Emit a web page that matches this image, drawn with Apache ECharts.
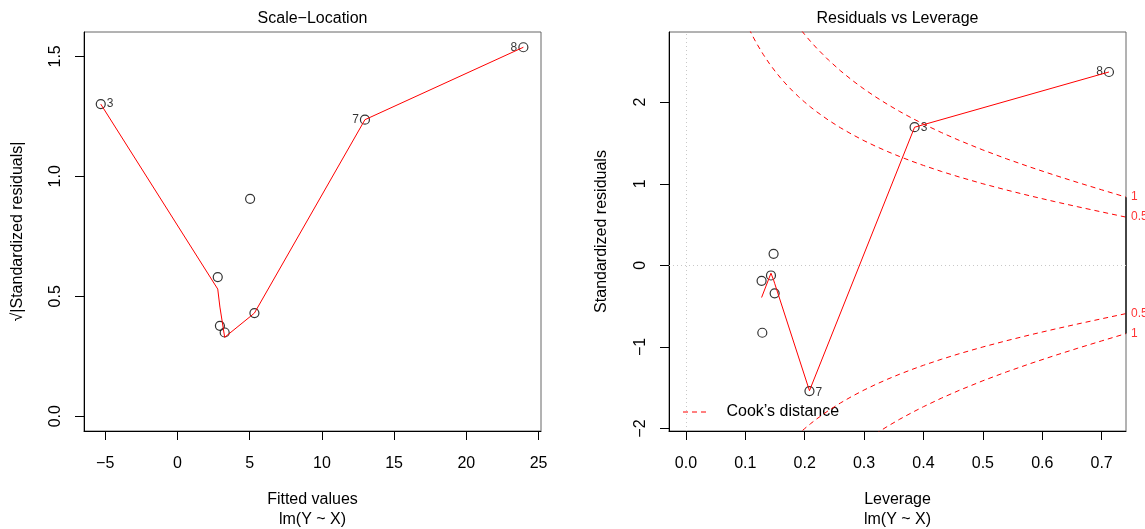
<!DOCTYPE html>
<html>
<head>
<meta charset="utf-8">
<script src="https://cdn.jsdelivr.net/npm/echarts@6/dist/echarts.min.js"></script>
<style>
html,body{margin:0;padding:0;background:#fff;}
#chart{width:1145px;height:529px;}
</style>
</head>
<body>
<div id="chart"></div>
<script>
// ---------- data ----------
const obsIds      = [3, 7, 8, 1, 2, 4, 5, 6];
const fittedVals  = [-5.31, 12.98, 23.95, 5.03, 2.79, 5.33, 2.94, 3.27];
const sqrtStdRes  = [1.301, 1.236, 1.538, 0.906, 0.580, 0.430, 0.377, 0.349];
const leverage    = [0.385, 0.208, 0.7123, 0.1286, 0.1494, 0.1274, 0.1476, 0.1432];
const stdRes      = [1.693, -1.541, 2.370, -0.826, -0.343, -0.190, 0.141, -0.124];
const labelledIds = [3, 7, 8];

// smoother (red) lines
const slSmoothX = [-5.31, 2.79, 2.94, 3.27, 5.03, 5.33, 12.98, 23.95];
const slSmoothY = [1.301, 0.530, 0.455, 0.329, 0.415, 0.430, 1.236, 1.538];
const rlSmoothX = [0.1274, 0.1286, 0.1432, 0.1476, 0.1494, 0.208, 0.385, 0.7123];
const rlSmoothY = [-0.394, -0.371, -0.096, -0.180, -0.220, -1.536, 1.693, 2.370];

// Cook's distance contours
const cookH      = [0.10, 0.105, 0.11, 0.115, 0.12, 0.13, 0.14, 0.15, 0.16, 0.17, 0.18, 0.19, 0.20, 0.21, 0.22, 0.24, 0.26, 0.28, 0.30, 0.32, 0.34, 0.36, 0.38, 0.40, 0.43, 0.46, 0.50, 0.54, 0.58, 0.62, 0.66, 0.70, 0.741];
const cookUp05   = [3.0000, 2.9196, 2.8445, 2.7741, 2.7080, 2.5870, 2.4785, 2.3805, 2.2913, 2.2096, 2.1344, 2.0648, 2.0000, 1.9396, 1.8830, 1.7795, 1.6871, 1.6036, 1.5275, 1.4577, 1.3933, 1.3333, 1.2773, 1.2247, 1.1513, 1.0835, 1.0000, 0.9230, 0.8510, 0.7829, 0.7177, 0.6547, 0.5912];
const cookUp1    = [4.2426, 4.1290, 4.0227, 3.9232, 3.8297, 3.6586, 3.5051, 3.3665, 3.2404, 3.1248, 3.0185, 2.9201, 2.8284, 2.7430, 2.6630, 2.5166, 2.3859, 2.2678, 2.1602, 2.0615, 1.9704, 1.8856, 1.8064, 1.7320, 1.6282, 1.5323, 1.4142, 1.3053, 1.2035, 1.1072, 1.0150, 0.9259, 0.8361];
const cookLo05   = [-3.0000, -2.9196, -2.8445, -2.7741, -2.7080, -2.5870, -2.4785, -2.3805, -2.2913, -2.2096, -2.1344, -2.0648, -2.0000, -1.9396, -1.8830, -1.7795, -1.6871, -1.6036, -1.5275, -1.4577, -1.3933, -1.3333, -1.2773, -1.2247, -1.1513, -1.0835, -1.0000, -0.9230, -0.8510, -0.7829, -0.7177, -0.6547, -0.5912];
const cookLo1    = [-4.2426, -4.1290, -4.0227, -3.9232, -3.8297, -3.6586, -3.5051, -3.3665, -3.2404, -3.1248, -3.0185, -2.9201, -2.8284, -2.7430, -2.6630, -2.5166, -2.3859, -2.2678, -2.1602, -2.0615, -1.9704, -1.8856, -1.8064, -1.7320, -1.6282, -1.5323, -1.4142, -1.3053, -1.2035, -1.1072, -1.0150, -0.9259, -0.8361];
const cookLabelY    = [0.8361, 0.5912, -0.5912, -0.8361];
const cookLabelText = ['1', '0.5', '0.5', '1'];
const cookLabelX    = 0.741;

// tick labels
const slXTicks = [-5, 0, 5, 10, 15, 20, 25];
const slYTicks = [0, 0.5, 1, 1.5];
const rlXTicks = [0, 0.1, 0.2, 0.3, 0.4, 0.5, 0.6, 0.7];
const rlYTicks = [-2, -1, 0, 1, 2];

// ---------- chart ----------
const FONT = '"Liberation Sans", Arial, Helvetica, sans-serif';
const minus = s => String(s).replace('-', '\u2212');

function pointData(xs, ys, sides, offsets) {
  return xs.map((x, i) => {
    const id = obsIds[i];
    const item = { value: [x, ys[i]] };
    if (labelledIds.includes(id)) {
      item.label = {
        show: true, formatter: String(id), position: sides[id],
        distance: 1, offset: offsets[id] || [0, 0],
        fontFamily: FONT, fontSize: 12, color: '#000'
      };
    }
    return item;
  });
}
const zip = (a, b) => a.map((v, i) => [v, b[i]]);

function xAxisCfg(idx, min, max, ticks, fmt, name) {
  return {
    type: 'value', gridIndex: idx, min: min, max: max,
    axisLine: { show: true, onZero: false, lineStyle: { color: '#000', width: 1 } },
    axisTick: { show: true, length: 9, inside: false, customValues: ticks, lineStyle: { color: '#000' } },
    axisLabel: { show: true, customValues: ticks, formatter: fmt, margin: 25, fontFamily: FONT, fontSize: 16, color: '#000', lineHeight: 16 },
    splitLine: { show: false },
    name: name, nameLocation: 'middle', nameGap: 59,
    nameTextStyle: { fontFamily: FONT, fontSize: 16, color: '#000', lineHeight: 20 }
  };
}
function yAxisCfg(idx, min, max, ticks, fmt, name, gap) {
  return {
    type: 'value', gridIndex: idx, min: min, max: max,
    axisLine: { show: true, onZero: false, lineStyle: { color: '#000', width: 1 } },
    axisTick: { show: true, length: 9, inside: false, customValues: ticks, lineStyle: { color: '#000' } },
    axisLabel: { show: true, customValues: ticks, formatter: fmt, rotate: 90, margin: 20, fontFamily: FONT, fontSize: 16, color: '#000', lineHeight: 16 },
    splitLine: { show: false },
    name: name, nameLocation: 'middle', nameGap: gap, nameRotate: 90,
    nameTextStyle: { fontFamily: FONT, fontSize: 16, color: '#000', lineHeight: 16 }
  };
}

const cookStyle = { color: '#ff0000', width: 1, type: [5, 4] };
const circleStyle = { color: 'rgba(0,0,0,0)', borderColor: '#000', borderWidth: 1.2 };

const option = {
  animation: false,
  backgroundColor: '#fff',
  title: [
    { text: 'Scale\u2212Location', left: 312.5, top: 11, textAlign: 'center', padding: 0,
      textStyle: { fontFamily: FONT, fontSize: 16, fontWeight: 'normal', color: '#000' } },
    { text: 'Residuals vs Leverage', left: 897.5, top: 11, textAlign: 'center', padding: 0,
      textStyle: { fontFamily: FONT, fontSize: 16, fontWeight: 'normal', color: '#000' } }
  ],
  grid: [
    { left: 84, top: 32, width: 457, height: 399, show: true, borderColor: '#666', borderWidth: 1,
      containLabel: false, outerBoundsMode: 'none' },
    { left: 669, top: 32, width: 457, height: 399, show: true, borderColor: '#666', borderWidth: 1,
      containLabel: false, outerBoundsMode: 'none' }
  ],
  xAxis: [
    xAxisCfg(0, -6.47, 25.17, slXTicks, v => minus(v), 'Fitted values\nlm(Y ~ X)'),
    xAxisCfg(1, -0.0285, 0.741, rlXTicks, v => v.toFixed(1), 'Leverage\nlm(Y ~ X)')
  ],
  yAxis: [
    yAxisCfg(0, -0.0616, 1.6016, slYTicks, v => v.toFixed(1), '\u221A|Standardized residuals|', 58),
    yAxisCfg(1, -2.03, 2.86, rlYTicks, v => minus(v), 'Standardized residuals', 59)
  ],
  series: [
    // ----- Scale-Location -----
    { type: 'scatter', xAxisIndex: 0, yAxisIndex: 0, symbol: 'circle', symbolSize: 9,
      itemStyle: circleStyle, z: 2,
      data: pointData(fittedVals, sqrtStdRes, { 3: 'right', 7: 'left', 8: 'left' }, {}) },
    { type: 'line', xAxisIndex: 0, yAxisIndex: 0, symbol: 'none', z: 3,
      lineStyle: { color: '#ff0000', width: 1 }, data: zip(slSmoothX, slSmoothY) },

    // ----- Residuals vs Leverage -----
    { type: 'scatter', xAxisIndex: 1, yAxisIndex: 1, symbol: 'circle', symbolSize: 9,
      itemStyle: circleStyle, z: 2,
      data: pointData(leverage, stdRes, { 3: 'right', 7: 'right', 8: 'left' }, { 7: [0, 2] }),
      markLine: {
        silent: true, symbol: 'none', label: { show: false },
        lineStyle: { color: '#c8c8c8', width: 1, type: [1, 3] },
        data: [{ xAxis: 0 }, { yAxis: 0 }]
      } },
    { type: 'line', xAxisIndex: 1, yAxisIndex: 1, symbol: 'none', z: 3,
      lineStyle: { color: '#ff0000', width: 1 }, data: zip(rlSmoothX, rlSmoothY) },
    { name: "Cook's distance", type: 'line', xAxisIndex: 1, yAxisIndex: 1, symbol: 'none', clip: true,
      lineStyle: cookStyle, data: zip(cookH, cookUp05) },
    { name: "Cook's distance", type: 'line', xAxisIndex: 1, yAxisIndex: 1, symbol: 'none', clip: true,
      lineStyle: cookStyle, data: zip(cookH, cookUp1) },
    { name: "Cook's distance", type: 'line', xAxisIndex: 1, yAxisIndex: 1, symbol: 'none', clip: true,
      lineStyle: cookStyle, data: zip(cookH, cookLo05) },
    { name: "Cook's distance", type: 'line', xAxisIndex: 1, yAxisIndex: 1, symbol: 'none', clip: true,
      lineStyle: cookStyle, data: zip(cookH, cookLo1) },
    // right-side Cook's axis segment
    { type: 'line', xAxisIndex: 1, yAxisIndex: 1, symbol: 'none', clip: false, z: 4,
      lineStyle: { color: '#222', width: 1.5 },
      data: [[cookLabelX, cookLabelY[cookLabelY.length - 1]], [cookLabelX, cookLabelY[0]]] },
    // Cook's labels
    { type: 'scatter', xAxisIndex: 1, yAxisIndex: 1, symbolSize: 0, clip: false, silent: true,
      data: cookLabelY.map((y, i) => ({
        value: [cookLabelX, y],
        label: { show: true, position: 'right', distance: 5, formatter: cookLabelText[i],
                 fontFamily: FONT, fontSize: 12, color: '#ff0000' }
      })) }
  ],
  graphic: [
    { type: 'line', shape: { x1: 683, y1: 412, x2: 708, y2: 412 },
      style: { stroke: '#ff0000', lineWidth: 1, lineDash: [5, 4] } },
    { type: 'text', x: 726.5, y: 412,
      style: { text: 'Cook\u2019s distance', fontFamily: FONT, fontSize: 16, fill: '#000', verticalAlign: 'middle', align: 'left' } }
  ]
};

const chart = echarts.init(document.getElementById('chart'), null, { renderer: 'canvas' });
chart.setOption(option);
</script>
</body>
</html>
